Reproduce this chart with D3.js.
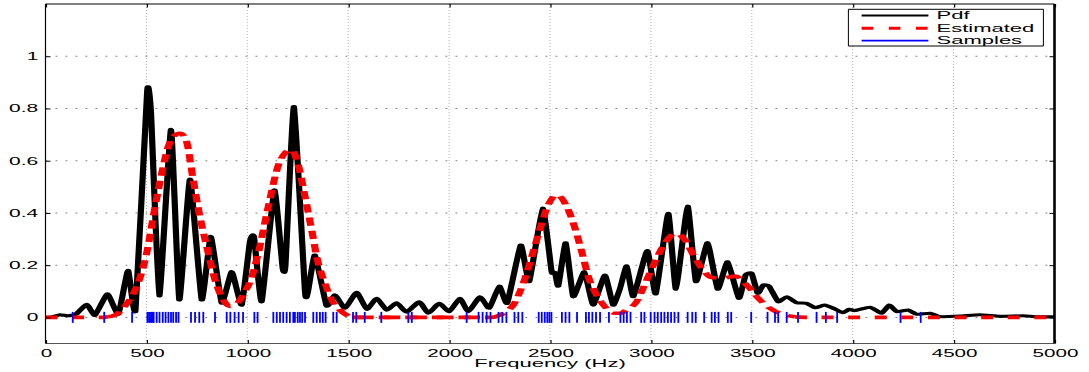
<!DOCTYPE html>
<html>
<head>
<meta charset="utf-8">
<script src="https://cdn.jsdelivr.net/npm/d3@7"></script>
<style>
  html, body { margin: 0; padding: 0; background: #fff; }
  svg { display: block; }
</style>
</head>
<body>
<script>
// Frequency axis (Hz) and value axis ticks
const xTicks = [0, 500, 1000, 1500, 2000, 2500, 3000, 3500, 4000, 4500, 5000];
const yTicks = [0, 0.2, 0.4, 0.6, 0.8, 1];

// True pdf
const pdfFreq = [0,32,72,112,151,204,245,307,361,409,446,504,523,564,622,663,716,774,819,873,923,972,1013,1033,1071,1134,1175,1189,1231,1286,1301,1335,1393,1434,1484,1542,1592,1641,1691,1740,1789,1852,1897,1951,2001,2054,2095,2153,2199,2249,2288,2355,2397,2464,2508,2525,2541,2578,2615,2670,2714,2772,2813,2847,2880,2913,2982,3024,3086,3124,3182,3223,3281,3331,3380,3436,3469,3499,3529,3557,3585,3631,3673,3722,3772,3813,3862,3904,3950,3983,4011,4086,4143,4181,4218,4275,4317,4383,4433,4532,4630,4730,4844,4928,5000];
const pdfValue = [0,0.002,0.01,0.006,0.012,0.05,0.008,0.09,0.012,0.18,0.028,0.868,0.78,0.082,0.72,0.067,0.53,0.067,0.31,0.055,0.175,0.047,0.29,0.31,0.06,0.488,0.19,0.2,0.807,0.098,0.1,0.239,0.044,0.086,0.035,0.096,0.031,0.073,0.028,0.056,0.02,0.06,0.016,0.054,0.022,0.073,0.022,0.079,0.035,0.12,0.054,0.277,0.137,0.418,0.175,0.172,0.12,0.286,0.079,0.175,0.047,0.162,0.047,0.111,0.197,0.079,0.256,0.09,0.398,0.108,0.426,0.137,0.286,0.108,0.213,0.073,0.162,0.169,0.092,0.124,0.12,0.06,0.079,0.056,0.054,0.037,0.047,0.035,0.018,0.031,0.026,0.039,0.016,0.047,0.022,0.028,0.012,0.016,0.003,0.005,0.01,0.004,0.006,0.002,0.002];

// Estimated mixture density
const estFreq = [0,290,310,349,385,419,452,501,543,576,608,637,666,696,732,765,799,840,881,914,944,964,989,1013,1054,1104,1154,1187,1216,1253,1286,1319,1344,1385,1418,1459,1494,1519,2202,2252,2287,2318,2367,2417,2459,2491,2533,2583,2624,2657,2690,2731,2772,2812,2847,2882,2929,2979,3028,3069,3124,3169,3210,3252,3301,3358,3416,3482,3532,3590,3664,3714,3763,5000];
const estValue = [0,0,0.002,0.01,0.035,0.07,0.118,0.245,0.424,0.552,0.654,0.695,0.705,0.68,0.526,0.386,0.271,0.143,0.067,0.042,0.05,0.067,0.1,0.135,0.245,0.424,0.583,0.63,0.643,0.583,0.462,0.335,0.232,0.13,0.067,0.028,0.008,0,0,0.009,0.025,0.047,0.13,0.252,0.36,0.43,0.469,0.424,0.341,0.252,0.156,0.086,0.041,0.017,0.016,0.03,0.06,0.143,0.226,0.284,0.322,0.296,0.239,0.188,0.153,0.15,0.158,0.118,0.073,0.035,0.009,0.002,0,0];

// Sample frequencies (Hz)
const sampleFreq = [135,291,429,505,513,518,524,530,536,551,565,581,595,609,622,633,647,659,721,741,762,782,840,898,916,937,957,979,1035,1051,1129,1146,1162,1178,1195,1211,1228,1236,1250,1261,1272,1286,1327,1344,1360,1374,1388,1426,1443,1524,1540,1582,1664,1798,1815,2087,2146,2166,2186,2205,2245,2264,2284,2324,2343,2363,2444,2459,2474,2487,2497,2507,2559,2577,2596,2634,2678,2693,2710,2728,2748,2792,2849,2865,2881,2899,2952,2968,2999,3018,3034,3051,3067,3084,3100,3117,3136,3182,3205,3222,3264,3301,3317,3335,3381,3398,3497,3578,3615,3631,3673,3729,3821,3867,3923,4237,4337];

const legendLabels = ["Pdf", "Estimated", "Samples"];

// The figure is drawn in a narrow frame and widened horizontally by SX.
const SX = 2;
const FONT = '"Liberation Sans", Arial, Helvetica, sans-serif';

const svg = d3.select("body").append("svg").attr("width", 1089).attr("height", 372);
const g = svg.append("g").attr("transform", `scale(${SX},1)`);

const x = d3.scaleLinear().domain([0, 5000]).range([22.75, 527.25]);
const y = d3.scaleLinear().domain([-0.1, 1.2]).range([343.5, 4]);

// Dotted grid
g.append("g").selectAll("line")
  .data(xTicks.filter(t => t > 0 && t < 5000)).join("line")
  .attr("x1", d => x(d)).attr("x2", d => x(d))
  .attr("y1", y(1.2)).attr("y2", y(-0.1))
  .attr("stroke", "#9a9a9a").attr("stroke-width", 0.5)
  .attr("stroke-dasharray", "1,2");
g.append("g").selectAll("line")
  .data(yTicks).join("line")
  .attr("x1", x(0)).attr("x2", x(5000))
  .attr("y1", d => y(d)).attr("y2", d => y(d))
  .attr("stroke", "#808080").attr("stroke-width", 1)
  .attr("stroke-dasharray", "0.9,4.1");

// Pdf curve
const pdfLine = d3.line().x(d => x(d[0])).y(d => y(d[1])).curve(d3.curveCardinal.tension(0.6));
const pdf = d3.zip(pdfFreq, pdfValue);
g.append("path").datum(pdf)
  .attr("d", pdfLine)
  .attr("fill", "none").attr("stroke", "#000")
  .attr("stroke-width", 3.1).attr("stroke-linejoin", "round");

// Estimated curve: bumps and the flat zero stretches use their own dash rhythm
const est = d3.zip(estFreq, estValue);
const isHump = i => est[i][1] >= 0.005;
const humpLine = d3.line().x(d => x(d[0])).y(d => y(d[1])).curve(d3.curveMonotoneX)
  .defined((d, i) => isHump(i) || (i > 0 && isHump(i - 1)) || (i < est.length - 1 && isHump(i + 1)));
const flatLine = d3.line().x(d => x(d[0])).y(d => y(d[1]))
  .defined((d, i) => !isHump(i));
g.append("path").datum(est)
  .attr("d", flatLine)
  .attr("fill", "none").attr("stroke", "#ff0000")
  .attr("stroke-width", 3.6).attr("stroke-dasharray", "6,7.3");
g.append("path").datum(est)
  .attr("d", humpLine)
  .attr("fill", "none").attr("stroke", "#ff0000")
  .attr("stroke-width", 3.6).attr("stroke-dasharray", "8.3,5");

// Samples as short vertical marks on the zero line
g.append("g").selectAll("line")
  .data(sampleFreq).join("line")
  .attr("x1", d => x(d)).attr("x2", d => x(d))
  .attr("y1", y(0.021)).attr("y2", y(-0.021))
  .attr("stroke", "#0000ff").attr("stroke-width", 0.9);

// Axes frame
const frame = g.append("g");
frame.append("line").attr("x1", x(0)).attr("x2", x(5000)).attr("y1", 4).attr("y2", 4)
  .attr("stroke", "#000").attr("stroke-width", 1.2);
frame.append("line").attr("x1", x(0)).attr("x2", x(5000)).attr("y1", 343.5).attr("y2", 343.5)
  .attr("stroke", "#555").attr("stroke-width", 1);
frame.append("line").attr("x1", x(0)).attr("x2", x(0)).attr("y1", 4).attr("y2", 343.5)
  .attr("stroke", "#000").attr("stroke-width", 0.6);
frame.append("line").attr("x1", x(5000)).attr("x2", x(5000)).attr("y1", 4).attr("y2", 343.5)
  .attr("stroke", "#000").attr("stroke-width", 1.3);

// Bottom axis with labels, ticks pointing inward
const gx = g.append("g").attr("transform", "translate(0,343.5)")
  .call(d3.axisBottom(x).tickValues(xTicks).tickSizeInner(-3.5).tickSizeOuter(0).tickFormat(d3.format("d")));
gx.select(".domain").remove();
gx.selectAll(".tick line").attr("stroke", "#000").attr("stroke-width", 0.6);
gx.selectAll(".tick text").attr("y", 13.3).attr("dy", null)
  .attr("font-size", 10.3).attr("font-family", FONT).attr("fill", "#000");

// Top ticks
const gt = g.append("g").attr("transform", "translate(0,4)")
  .call(d3.axisTop(x).tickValues(xTicks).tickSizeInner(-3.5).tickSizeOuter(0).tickFormat(""));
gt.select(".domain").remove();
gt.selectAll(".tick line").attr("stroke", "#000").attr("stroke-width", 0.6);

// Left axis with labels
const gy = g.append("g").attr("transform", `translate(${x(0)},0)`)
  .call(d3.axisLeft(y).tickValues(yTicks).tickSizeInner(-2.5).tickSizeOuter(0).tickPadding(3.6).tickFormat(d => String(d)));
gy.select(".domain").remove();
gy.selectAll(".tick line").attr("stroke", "#000").attr("stroke-width", 1);
gy.selectAll(".tick text").attr("font-size", 10.5).attr("font-family", FONT).attr("fill", "#000");

// Right ticks
const gr = g.append("g").attr("transform", `translate(${x(5000)},0)`)
  .call(d3.axisRight(y).tickValues(yTicks).tickSizeInner(-2.5).tickSizeOuter(0).tickFormat(""));
gr.select(".domain").remove();
gr.selectAll(".tick line").attr("stroke", "#000").attr("stroke-width", 1);

// Axis label
g.append("text")
  .attr("x", x(2500)).attr("y", 367.3)
  .attr("text-anchor", "middle")
  .attr("font-size", 11).attr("font-family", FONT).attr("fill", "#000")
  .text("Frequency (Hz)");

// Legend
const lg = g.append("g");
lg.append("rect")
  .attr("x", 424.2).attr("y", 9.3).attr("width", 97.5).attr("height", 36.7)
  .attr("fill", "#fff").attr("stroke", "#000").attr("stroke-width", 1)
  .attr("vector-effect", "non-scaling-stroke");
const rows = [
  { y: 15.6, stroke: "#000", width: 2, dash: null },
  { y: 28.2, stroke: "#ff0000", width: 3, dash: "5.8,7.8" },
  { y: 40.6, stroke: "#0000ff", width: 1.6, dash: null }
];
rows.forEach((r, i) => {
  lg.append("line")
    .attr("x1", 430.8).attr("x2", 464.2).attr("y1", r.y).attr("y2", r.y)
    .attr("stroke", r.stroke).attr("stroke-width", r.width)
    .attr("stroke-dasharray", r.dash);
  lg.append("text")
    .attr("x", 468.3).attr("y", r.y + 3.8)
    .attr("font-size", 11).attr("font-family", FONT).attr("fill", "#000")
    .text(legendLabels[i]);
});
</script>
</body>
</html>
